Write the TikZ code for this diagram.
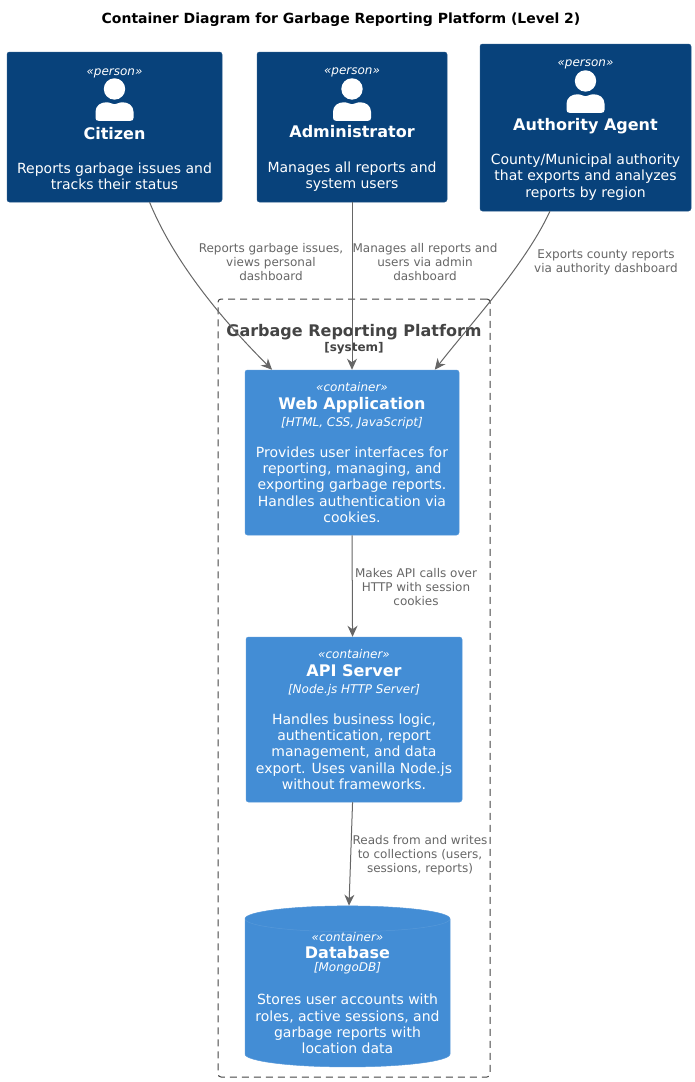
\documentclass[tikz,border=0pt]{standalone}
\usepackage{fontspec}
\setmainfont{DejaVu Sans}
\usetikzlibrary{arrows.meta,shapes.geometric}

\definecolor{personblue}{HTML}{08427B}
\definecolor{contblue}{HTML}{438DD5}
\definecolor{linegray}{HTML}{666666}
\definecolor{boundgray}{HTML}{444444}

\newcommand{\stereofont}{\fontsize{12}{14}\selectfont\itshape}
\newcommand{\namefont}{\fontsize{16}{19}\selectfont\bfseries}
\newcommand{\topgap}[1]{\rule{0pt}{#1}}

\tikzset{
  basebox/.style={rectangle, rounded corners=2.5pt, align=center, text=white, inner sep=0pt,
    font=\fontsize{14}{16.3}\selectfont},
  persbox/.style={basebox, fill=personblue, draw=personblue!90!white, line width=0.5pt},
  contbox/.style={basebox, fill=contblue, draw=contblue!90!white, line width=0.5pt},
  edgelabel/.style={text=linegray, align=center, inner sep=0pt, font=\fontsize{12}{14}\selectfont},
  relline/.style={draw=linegray, line width=1pt, -{Stealth[length=11pt,width=10pt,inset=3.5pt]}}
}

\begin{document}
\begin{tikzpicture}[x=1pt,y=-1pt]
    \useasboundingbox (0,0) rectangle (695,1082);
    \node[font=\fontsize{14}{17}\selectfont\bfseries, inner sep=0pt] (title) at (341,19.5)
      {Container Diagram for Garbage Reporting Platform (Level 2)};

    % system boundary, drawn first so the connectors run over it
    \node[draw=boundgray, dashed, dash pattern=on 7pt off 5pt, rounded corners=3pt, line width=1pt,
      minimum width=272pt, minimum height=778pt, inner sep=0pt] (boundary) at (354,688) {};
    \node[text=boundgray, align=center, inner sep=0pt, font=\fontsize{16}{19}\selectfont\bfseries] (boundarylabel) at (354,339.5)
      {Garbage Reporting Platform\\[-4pt]{\fontsize{12}{14}\selectfont [system]}};

    \node[persbox, minimum width=215pt, minimum height=150pt] (citizen) at (114.5,127)
      {\topgap{12pt}{\stereofont «person»}\\[47pt]{\namefont Citizen}\\[18pt]Reports garbage issues and\\tracks their status};
    \node[persbox, minimum width=190pt, minimum height=150pt] (administrator) at (352,127)
      {\topgap{12pt}{\stereofont «person»}\\[47pt]{\namefont Administrator}\\[18pt]Manages all reports and\\system users};
    \node[persbox, minimum width=211pt, minimum height=167pt] (authority) at (585.5,127.5)
      {\topgap{12pt}{\stereofont «person»}\\[47pt]{\namefont Authority Agent}\\[18pt]County/Municipal authority\\that exports and analyzes\\reports by region};

    % person icons hang from the top edge of each box
    \foreach \who in {citizen,administrator,authority} {
      \begin{scope}[shift={(\who.north)}]
        \fill[white] (0,37.2) circle (10.7pt);
        \fill[white] (-19,66) -- (-19,60) .. controls (-19,54) and (-14,50.5) .. (-8,50.5)
          .. controls (-4,50.5) and (-3,52.5) .. (0,52.5) .. controls (3,52.5) and (4,50.5) .. (8,50.5)
          .. controls (14,50.5) and (19,54) .. (19,60) -- (19,66)
          .. controls (19,68) and (18,69) .. (16,69) -- (-16,69) .. controls (-18,69) and (-19,68) .. (-19,66) -- cycle;
      \end{scope}
    }

    \node[contbox, minimum width=214pt, minimum height=165pt] (webapp) at (352,452.5)
      {{\stereofont «container»}\\[2pt]{\namefont Web Application}\\[0pt]{\stereofont [HTML, CSS, JavaScript]}\\[15pt]Provides user interfaces for\\reporting, managing, and\\exporting garbage reports.\\Handles authentication via\\cookies.};
    \node[contbox, minimum width=216pt, minimum height=165pt] (apiserver) at (354,719.5)
      {{\stereofont «container»}\\[2pt]{\namefont API Server}\\[0pt]{\stereofont [Node.js HTTP Server]}\\[15pt]Handles business logic,\\authentication, report\\management, and data\\export. Uses vanilla Node.js\\without frameworks.};
    \node[cylinder, shape border rotate=90, aspect=0.14, fill=contblue, draw=contblue!90!white, line width=0.5pt,
      text=white, align=center, inner sep=0pt, font=\fontsize{14}{16.3}\selectfont,
      minimum width=205pt, minimum height=138pt] (database) at (347.5,993)
      {{\stereofont «container»}\\[1pt]{\namefont Database}\\[-3pt]{\stereofont [MongoDB]}\\[17pt]Stores user accounts with\\roles, active sessions, and\\garbage reports with\\location data};

    \draw[relline] (citizen.-65.3) .. controls +(23,56) and +(-55,-55) .. (webapp.134.8);
    \draw[relline] (administrator.south) -- (webapp.north);
    \draw[relline] (authority.-113) .. controls +(-25,54) and +(35,-45) .. (webapp.45.5);
    \draw[relline] (webapp.south) -- (apiserver.91);
    \draw[relline] (apiserver.-91) -- ([xshift=1.5pt]database.north);

    \node[edgelabel] (citizenlabel) at (271,262.5) {Reports garbage issues,\\views personal\\dashboard};
    \node[edgelabel] (adminlabel) at (425,262.5) {Manages all reports and\\users via admin\\dashboard};
    \node[edgelabel] (authoritylabel) at (606,262) {Exports county reports\\via authority dashboard};
    \node[edgelabel] (weblabel) at (416,587.5) {Makes API calls over\\HTTP with session\\cookies};
    \node[edgelabel] (apilabel) at (420,855) {Reads from and writes\\to collections (users,\\sessions, reports)};
\end{tikzpicture}
\end{document}
